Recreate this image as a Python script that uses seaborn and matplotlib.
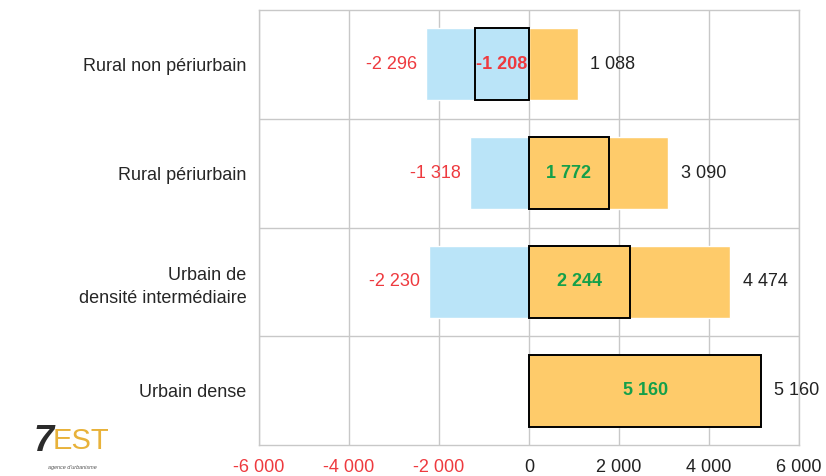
import pandas as pd
import numpy as np
import matplotlib.pyplot as plt
import seaborn as sns

sns.set_style('white')
plt.rcParams['font.family'] = ['Liberation Sans', 'DejaVu Sans']

# Data
categories = ['Rural non périurbain', 'Rural périurbain',
              'Urbain de\ndensité intermédiaire', 'Urbain dense']
negatives = [-2296, -1318, -2230, 0]
positives = [1088, 3090, 4474, 5160]
net = [-1208, 1772, 2244, 5160]
xticks = [-6000, -4000, -2000, 0, 2000, 4000, 6000]

df = pd.DataFrame({'categorie': categories, 'neg': negatives,
                   'pos': positives, 'net': net})
df['signe'] = np.where(df['net'] < 0, 'neg', 'pos')

blue = '#BAE4F8'
orange = '#FECB6A'
red = '#EE3A3F'
green = '#14A04A'

def fmt(v):
    return f"{v:,}".replace(",", " ")

fig = plt.figure(figsize=(8.26, 4.76), dpi=100)
ax = fig.add_axes([259/826, 1 - 445/476, 540/826, 435/476])

sns.barplot(data=df, x='neg', y='categorie', color=blue, width=0.66,
            saturation=1, orient='h', ax=ax, zorder=2)
sns.barplot(data=df, x='pos', y='categorie', color=orange, width=0.66,
            saturation=1, orient='h', ax=ax, zorder=2)
sns.barplot(data=df, x='net', y='categorie', hue='signe',
            palette={'neg': blue, 'pos': orange}, dodge=False, width=0.66,
            saturation=1, orient='h', ax=ax, legend=False, zorder=3,
            edgecolor='black', linewidth=1.4)

# value labels
for i, row in df.iterrows():
    if row['neg'] != 0:
        ax.annotate(fmt(row['neg']), (row['neg'], i), xytext=(-6, 0),
                    textcoords='offset points', ha='right', va='center',
                    color=red, fontsize=13)
    ax.annotate(fmt(row['pos']), (row['pos'], i), xytext=(9, 0),
                textcoords='offset points', ha='left', va='center',
                color='#222222', fontsize=13)
    ax.text(row['net'] / 2, i, fmt(row['net']), ha='center', va='center',
            color=red if row['net'] < 0 else green, fontsize=13,
            fontweight='bold', zorder=4)

ax.set_xlim(-6000, 6000)
ax.set_ylim(3.5, -0.5)
ax.set_xticks(xticks)
ax.set_xticklabels([fmt(t) for t in xticks])
for lbl, t in zip(ax.get_xticklabels(), xticks):
    lbl.set_color(red if t < 0 else '#222222')
ax.set_yticks(range(len(categories)))
ax.set_yticklabels(categories, linespacing=1.45)
ax.set_yticks([0.5, 1.5, 2.5], minor=True)
ax.tick_params(axis='x', labelsize=13, length=0, pad=10)
ax.tick_params(axis='y', labelsize=13, length=0, pad=9, which='both')
ax.xaxis.grid(True, color='#C8C8C8', linewidth=1, zorder=0)
ax.yaxis.grid(True, which='minor', color='#C8C8C8', linewidth=1, zorder=0)
ax.yaxis.grid(False, which='major')
ax.set_axisbelow(True)
for s in ax.spines.values():
    s.set_color('#C8C8C8')
    s.set_linewidth(1)
ax.set_xlabel('')
ax.set_ylabel('')

# logo
fig.text(0.040, 0.035, '7', color='#2B2B2B', fontsize=26, fontweight='bold',
         style='italic', ha='left', va='bottom')
fig.text(0.064, 0.045, 'EST', color='#E8B23A', fontsize=21, ha='left',
         va='bottom')
fig.text(0.058, 0.012, "agence d'urbanisme", color='#555555', fontsize=4,
         style='italic', ha='left', va='bottom')

plt.savefig('out.png', dpi=100)
